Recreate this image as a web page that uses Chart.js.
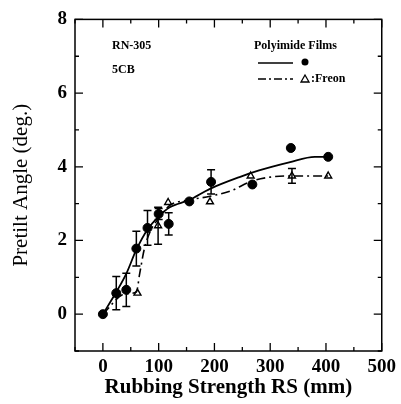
<!DOCTYPE html>
<html>
<head>
<meta charset="utf-8">
<script src="https://cdn.jsdelivr.net/npm/chart.js@4/dist/chart.umd.min.js"></script>
<style>
	html, body { margin: 0; padding: 0; background: #fff; }
	#wrap { width: 401px; height: 404px; position: relative; }
</style>
</head>
<body>
<div id="wrap"><canvas id="chart-pretilt"></canvas></div>
<script>
// Polyimide films (filled circles)
const CIRCLE_X = [0, 24, 42, 60, 80, 100, 118, 155, 194, 268, 337, 404];
const CIRCLE_Y = [0, 0.57, 0.66, 1.78, 2.34, 2.72, 2.45, 3.06, 3.59, 3.52, 4.51, 4.27];
const CIRCLE_ERR = [0, 0.45, 0.45, 0.47, 0.47, 0.15, 0.3, 0, 0.33, 0, 0, 0];

// Freon treated (open triangles)
const TRI_X = [62, 99, 117, 192, 265, 339, 404];
const TRI_Y = [0.57, 2.4, 3.03, 3.05, 3.75, 3.75, 3.75];
const TRI_ERR = [0, 0.5, 0, 0, 0, 0.2, 0];

// fitted curves as drawn
const SOLID_X = [0, 24, 42, 60, 80, 100, 120, 155, 192, 245, 280, 334, 380, 404];
const SOLID_Y = [0, 0.6, 1.1, 1.75, 2.3, 2.65, 2.9, 3.1, 3.4, 3.72, 3.9, 4.12, 4.27, 4.27];
const DASH_X = [0, 40, 60, 66, 74, 85, 100, 120, 155, 192, 230, 265, 300, 340, 404];
const DASH_Y = [0, 0.55, 0.6, 1.1, 1.75, 2.25, 2.6, 2.95, 3.1, 3.2, 3.35, 3.6, 3.72, 3.75, 3.75];

const X_TICKS = [0, 100, 200, 300, 400, 500];
const Y_TICKS = [0, 2, 4, 6, 8];

const toPoints = (xs, ys) => xs.map((x, i) => ({ x: x, y: ys[i] }));

const SERIF = "'Liberation Serif', 'Times New Roman', serif";

// inward ticks on all four sides + frame
const frameTicks = {
	id: "frameTicks",
	afterDraw(chart) {
		const { ctx, chartArea: a, scales } = chart;
		ctx.save();
		ctx.strokeStyle = "#000";
		ctx.lineWidth = 1.5;
		ctx.strokeRect(a.left, a.top, a.right - a.left, a.bottom - a.top);
		ctx.lineWidth = 1.3;
		scales.x.ticks.forEach((t) => {
			const px = scales.x.getPixelForValue(t.value);
			const len = X_TICKS.includes(t.value) ? 8 : 4;
			ctx.beginPath();
			ctx.moveTo(px, a.bottom);
			ctx.lineTo(px, a.bottom - len);
			ctx.moveTo(px, a.top);
			ctx.lineTo(px, a.top + len);
			ctx.stroke();
		});
		scales.y.ticks.forEach((t) => {
			const py = scales.y.getPixelForValue(t.value);
			const len = Y_TICKS.includes(t.value) ? 8 : 4;
			ctx.beginPath();
			ctx.moveTo(a.left, py);
			ctx.lineTo(a.left + len, py);
			ctx.moveTo(a.right, py);
			ctx.lineTo(a.right - len, py);
			ctx.stroke();
		});
		ctx.restore();
	},
};

// vertical error bars with caps
const errorBars = {
	id: "errorBars",
	afterDatasetsDraw(chart) {
		const { ctx, scales } = chart;
		const sets = [
			[CIRCLE_X, CIRCLE_Y, CIRCLE_ERR],
			[TRI_X, TRI_Y, TRI_ERR],
		];
		ctx.save();
		ctx.strokeStyle = "#000";
		ctx.lineWidth = 1.5;
		sets.forEach(([xs, ys, errs]) => {
			xs.forEach((x, i) => {
				if (!errs[i]) return;
				const px = scales.x.getPixelForValue(x);
				const top = scales.y.getPixelForValue(ys[i] + errs[i]);
				const bot = scales.y.getPixelForValue(ys[i] - errs[i]);
				ctx.beginPath();
				ctx.moveTo(px, top);
				ctx.lineTo(px, bot);
				ctx.moveTo(px - 4, top);
				ctx.lineTo(px + 4, top);
				ctx.moveTo(px - 4, bot);
				ctx.lineTo(px + 4, bot);
				ctx.stroke();
			});
		});
		ctx.restore();
	},
};

// in-plot labels and hand-made legend
const annotations = {
	id: "annotations",
	afterDraw(chart) {
		const { ctx } = chart;
		ctx.save();
		ctx.fillStyle = "#000";
		ctx.strokeStyle = "#000";
		ctx.textBaseline = "middle";
		ctx.font = "bold 12px " + SERIF;
		ctx.fillText("RN-305", 112, 46);
		ctx.fillText("5CB", 112, 70);
		ctx.fillText("Polyimide Films", 254, 46);
		ctx.fillText(":Freon", 311, 79);

		ctx.lineWidth = 1.5;
		ctx.beginPath();
		ctx.moveTo(258, 63);
		ctx.lineTo(293, 63);
		ctx.stroke();
		ctx.beginPath();
		ctx.arc(305, 62, 3.5, 0, Math.PI * 2);
		ctx.fill();

		ctx.setLineDash([8, 3, 2, 3]);
		ctx.beginPath();
		ctx.moveTo(258, 79);
		ctx.lineTo(293, 79);
		ctx.stroke();
		ctx.setLineDash([]);
		ctx.lineWidth = 1.3;
		ctx.beginPath();
		ctx.moveTo(305, 75);
		ctx.lineTo(309, 82);
		ctx.lineTo(301, 82);
		ctx.closePath();
		ctx.stroke();
		ctx.restore();
	},
};

const CHART_WRAPPER = document.getElementById("chart-pretilt");

const CHART_CONFIG = {
	type: "scatter",
	data: {
		datasets: [
			{
				label: "fit",
				data: toPoints(SOLID_X, SOLID_Y),
				showLine: true,
				borderColor: "#000",
				borderWidth: 1.8,
				pointRadius: 0,
				cubicInterpolationMode: "monotone",
			},
			{
				label: "fit freon",
				data: toPoints(DASH_X, DASH_Y),
				showLine: true,
				borderColor: "#000",
				borderWidth: 1.6,
				borderDash: [9, 4, 2, 4],
				pointRadius: 0,
				cubicInterpolationMode: "monotone",
			},
			{
				label: "Polyimide Films",
				data: toPoints(CIRCLE_X, CIRCLE_Y),
				pointStyle: "circle",
				pointRadius: 4.5,
				backgroundColor: "#000",
				borderColor: "#000",
			},
			{
				label: "Freon",
				data: toPoints(TRI_X, TRI_Y),
				pointStyle: "triangle",
				pointRadius: 4,
				borderWidth: 1.4,
				backgroundColor: "#fff",
				borderColor: "#000",
			},
		],
	},
	options: {
		responsive: false,
		animation: false,
		layout: {
			padding: { top: 15, right: 17, left: 0, bottom: 0 },
		},
		scales: {
			x: {
				type: "linear",
				min: -50,
				max: 500,
				border: { display: false },
				grid: { display: false, drawTicks: false },
				afterFit: (scale) => {
					scale.height = 53;
				},
				ticks: {
					stepSize: 50,
					padding: 5,
					color: "#000",
					font: { family: SERIF, size: 19, weight: "bold" },
					autoSkip: false,
					maxRotation: 0,
					callback: (v) => (X_TICKS.includes(v) ? String(v) : ""),
				},
				title: {
					display: true,
					text: "Rubbing Strength RS (mm)",
					color: "#000",
					font: { family: SERIF, size: 21, weight: "bold" },
					padding: { top: 0, bottom: 4 },
				},
			},
			y: {
				type: "linear",
				min: -1,
				max: 8,
				border: { display: false },
				grid: { display: false, drawTicks: false },
				afterFit: (scale) => {
					scale.width = 75;
				},
				ticks: {
					stepSize: 1,
					padding: 8,
					color: "#000",
					font: { family: SERIF, size: 19, weight: "bold" },
					autoSkip: false,
					callback: (v) => (Y_TICKS.includes(v) ? String(v) : ""),
				},
				title: {
					display: true,
					text: "Pretilt Angle (deg.)",
					color: "#000",
					font: { family: SERIF, size: 21 },
					padding: { top: 9, bottom: 0 },
				},
			},
		},
		plugins: {
			legend: { display: false },
			tooltip: { enabled: false },
		},
	},
	plugins: [errorBars, frameTicks, annotations],
};

if (CHART_WRAPPER) {
	CHART_WRAPPER.width = 401;
	CHART_WRAPPER.height = 404;
	new Chart(CHART_WRAPPER, CHART_CONFIG);
}
</script>
</body>
</html>
